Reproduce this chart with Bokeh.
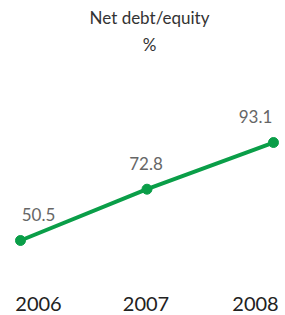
from bokeh.plotting import figure
from bokeh.models import ColumnDataSource, Range1d, Label
from bokeh.core.properties import value
from bokeh.embed import file_html
from bokeh.resources import INLINE

years = [2006, 2007, 2008]
year_labels = ["2006", "2007", "2008"]
net_debt_equity = [50.5, 72.8, 93.1]
value_labels = ["50.5", "72.8", "93.1"]

GREEN = "#0a9e48"
FONT = "Lato"

W, H = 285, 315
p = figure(width=W, height=H, output_backend="svg", toolbar_location=None,
           x_range=Range1d(2005.842, 2008.095), y_range=Range1d(17.89, 154.84),
           min_border=0, min_border_left=0, min_border_right=0,
           min_border_top=0, min_border_bottom=0)
p.axis.visible = False
p.grid.visible = False
p.outline_line_color = None
p.background_fill_color = "white"
p.border_fill_color = "white"

src = ColumnDataSource(dict(x=years, y=net_debt_equity, lab=value_labels,
                            yl=year_labels, dx=[18, -1, -18]))

p.line("x", "y", source=src, line_color=GREEN, line_width=4)
p.scatter("x", "y", source=src, size=10, fill_color=GREEN, line_color=GREEN)

p.text("x", "y", text="lab", source=src, x_offset="dx", y_offset=-26,
       text_align="center", text_baseline="middle", text_font=value(FONT),
       text_font_size="17px", text_color="#666666")

p.text("x", value(17.89), text="yl", source=src, x_offset="dx", y_offset=-12,
       text_align="center", text_baseline="middle", text_font=value(FONT),
       text_font_size="20px", text_color="#222222")

p.add_layout(Label(x=149, y=H - 17, x_units="screen", y_units="screen",
                   text="Net debt/equity", text_align="center",
                   text_baseline="middle", text_font=FONT,
                   text_font_size="17px", text_color="#333333"))
p.add_layout(Label(x=149, y=H - 44, x_units="screen", y_units="screen",
                   text="%", text_align="center",
                   text_baseline="middle", text_font=FONT,
                   text_font_size="17px", text_color="#333333"))

open("out.html", "w").write(file_html(p, INLINE))
